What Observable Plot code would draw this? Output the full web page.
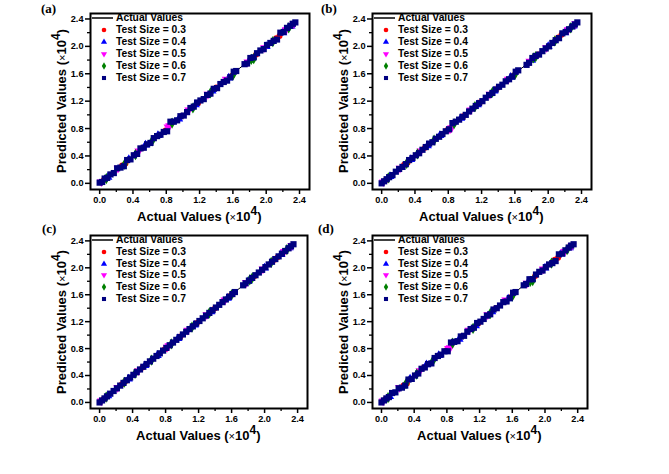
<!DOCTYPE html>
<html>
<head>
<meta charset="utf-8">
<script src="https://cdn.jsdelivr.net/npm/d3@7"></script>
<script src="https://cdn.jsdelivr.net/npm/@observablehq/plot@0.6"></script>
<style>
html,body{margin:0;padding:0;background:#fff;}
#chart{position:relative;width:669px;height:474px;overflow:hidden;background:#fff;font-family:"Liberation Sans",Arial,sans-serif;color:#000;}
.panel{position:absolute;}
.plab{position:absolute;font-family:"Liberation Serif","Times New Roman",serif;font-weight:bold;font-size:13px;line-height:13px;}
.ttl{position:absolute;font-weight:bold;font-size:13px;line-height:13px;white-space:nowrap;}
.ttl .mul{font-weight:normal;font-size:11px;}
.ttl sup{font-size:12px;vertical-align:6px;line-height:0;}
.leg{position:absolute;font-weight:bold;font-size:10.3px;white-space:nowrap;}
.leg .row{position:absolute;left:0;height:10px;}
.leg .row span{position:absolute;left:26px;top:-6px;line-height:12px;}
.leg svg{position:absolute;left:0;top:-5px;}
</style>
</head>
<body>
<div id="chart"></div>
<script>
// ---------- data ----------
const panelLabels = ["(a)", "(b)", "(c)", "(d)"];
const seriesNames = ["Test Size = 0.3", "Test Size = 0.4", "Test Size = 0.5", "Test Size = 0.6", "Test Size = 0.7"];
const lineName = "Actual Values";
const seriesColors = ["#ff0000", "#0000ff", "#ff00ff", "#008000", "#000080"];
const majorTicks = [0.0, 0.4, 0.8, 1.2, 1.6, 2.0, 2.4];
const minorTicks = [0.2, 0.6, 1.0, 1.4, 1.8, 2.2];
const xTitle = "Actual Values";
const yTitle = "Predicted Values";

// Test Size = 0.7 (drawn on top)
const actual07 = [0.00,0.03,0.06,0.09,0.13,0.17,0.21,0.25,0.29,0.33,0.37,0.41,0.45,0.49,0.53,0.57,0.61,0.65,0.69,0.73,0.77,0.81,0.85,0.89,0.93,0.97,1.01,1.05,1.09,1.13,1.17,1.21,1.25,1.29,1.33,1.37,1.41,1.45,1.49,1.53,1.57,1.61,1.64,1.74,1.77,1.81,1.85,1.89,1.93,1.97,2.01,2.05,2.09,2.13,2.17,2.21,2.25,2.29,2.32,2.35];
const pred07A = [0.01,0.02,0.07,0.08,0.13,0.15,0.22,0.23,0.25,0.34,0.35,0.41,0.43,0.51,0.52,0.57,0.59,0.66,0.69,0.71,0.75,0.76,0.90,0.90,0.92,0.98,0.99,1.04,1.10,1.12,1.18,1.21,1.23,1.29,1.31,1.38,1.39,1.45,1.48,1.50,1.55,1.63,1.64,1.74,1.75,1.83,1.84,1.90,1.94,1.96,2.02,2.05,2.08,2.10,2.20,2.21,2.27,2.30,2.33,2.35];
const pred07B = [0.00,0.03,0.06,0.09,0.12,0.17,0.21,0.24,0.28,0.34,0.37,0.41,0.44,0.49,0.53,0.58,0.60,0.65,0.68,0.72,0.76,0.79,0.88,0.90,0.93,0.97,1.00,1.05,1.09,1.13,1.17,1.20,1.25,1.29,1.32,1.37,1.41,1.44,1.49,1.52,1.56,1.63,1.65,1.73,1.76,1.83,1.86,1.88,1.93,1.97,2.00,2.05,2.09,2.12,2.19,2.21,2.25,2.29,2.32,2.35];
const pred07C = [0.00,0.03,0.06,0.09,0.13,0.17,0.21,0.25,0.29,0.33,0.37,0.41,0.45,0.49,0.53,0.57,0.61,0.65,0.69,0.73,0.77,0.81,0.85,0.89,0.93,0.97,1.01,1.05,1.09,1.13,1.17,1.21,1.25,1.29,1.33,1.37,1.41,1.45,1.49,1.53,1.57,1.61,1.64,1.74,1.77,1.81,1.85,1.89,1.93,1.97,2.01,2.05,2.09,2.13,2.17,2.21,2.25,2.29,2.32,2.35];
const pred07D = [0.00,0.03,0.06,0.08,0.14,0.15,0.21,0.22,0.25,0.34,0.35,0.40,0.43,0.50,0.52,0.57,0.58,0.66,0.69,0.71,0.76,0.76,0.89,0.90,0.91,0.98,0.99,1.05,1.09,1.11,1.18,1.20,1.24,1.29,1.31,1.38,1.40,1.44,1.49,1.50,1.55,1.63,1.64,1.74,1.76,1.83,1.83,1.90,1.94,1.96,2.01,2.05,2.07,2.10,2.20,2.21,2.26,2.30,2.33,2.35];

// Test Size = 0.3
const actual03 = [0.05,0.27,0.31,0.52,0.79,0.98,1.18,1.40,1.59,1.88,2.12,2.16];
const pred03A = [0.05,0.26,0.29,0.52,0.77,0.98,1.17,1.40,1.57,1.88,2.12,2.15];
const pred03B = [0.05,0.27,0.30,0.52,0.78,0.98,1.18,1.40,1.58,1.88,2.13,2.17];
const pred03C = [0.05,0.27,0.31,0.52,0.79,0.98,1.18,1.40,1.59,1.88,2.12,2.16];
const pred03D = [0.05,0.25,0.28,0.52,0.77,0.98,1.17,1.40,1.57,1.88,2.12,2.15];

// Test Size = 0.4
const actual04 = [0.10,0.35,0.55,0.70,0.95,1.15,1.35,1.55,1.80,2.00,2.20,2.30];
const pred04A = [0.09,0.35,0.56,0.70,0.94,1.15,1.35,1.54,1.80,2.00,2.20,2.30];
const pred04B = [0.10,0.35,0.55,0.70,0.95,1.15,1.35,1.55,1.80,2.00,2.20,2.30];
const pred04C = [0.10,0.35,0.55,0.70,0.95,1.15,1.35,1.55,1.80,2.00,2.20,2.30];
const pred04D = [0.09,0.35,0.56,0.70,0.94,1.14,1.35,1.54,1.80,2.00,2.21,2.30];

// Test Size = 0.5
const actual05 = [0.02,0.22,0.47,0.82,0.84,1.07,1.30,1.52,1.78,1.98,2.24,2.33];
const pred05A = [0.02,0.22,0.47,0.82,0.84,1.07,1.30,1.52,1.77,1.98,2.24,2.33];
const pred05B = [0.02,0.22,0.47,0.79,0.81,1.07,1.30,1.52,1.78,1.98,2.24,2.33];
const pred05C = [0.02,0.22,0.47,0.82,0.84,1.07,1.30,1.52,1.78,1.98,2.24,2.33];
const pred05D = [0.02,0.22,0.47,0.80,0.81,1.07,1.30,1.52,1.77,1.98,2.24,2.33];

// Test Size = 0.6
const actual06 = [0.08,0.30,0.43,0.63,0.87,1.12,1.33,1.60,1.82,1.85,2.08,2.27];
const pred06A = [0.07,0.28,0.42,0.62,0.88,1.10,1.32,1.58,1.81,1.82,2.07,2.27];
const pred06B = [0.08,0.29,0.43,0.63,0.87,1.12,1.33,1.59,1.83,1.85,2.08,2.27];
const pred06C = [0.08,0.30,0.43,0.63,0.87,1.12,1.33,1.60,1.82,1.85,2.08,2.27];
const pred06D = [0.07,0.28,0.42,0.62,0.88,1.10,1.32,1.58,1.80,1.81,2.07,2.27];

// ---------- layout ----------
const xDomain = [-0.11, 2.52];
const yDomain = [-0.09, 2.48];

const downTriangle = {
  draw(ctx, size) {
    const s = Math.sqrt(size / (3 * Math.sqrt(3)));
    ctx.moveTo(0, 2 * s);
    ctx.lineTo(-Math.sqrt(3) * s, -s);
    ctx.lineTo(Math.sqrt(3) * s, -s);
    ctx.closePath();
  }
};
const symbolsPlot = ["circle", "triangle", downTriangle, "diamond", "square"];
const symbolsD3 = [d3.symbolCircle, d3.symbolTriangle, downTriangle, d3.symbolDiamond, d3.symbolSquare];
const radii = [3.0, 3.3, 3.3, 3.4, 3.5];

const panels = [
  {left: 0,   top: 0,   fw: 219, fh: 176, lab: [41, 2],   pred: [pred03A, pred04A, pred05A, pred06A, pred07A]},
  {left: 282, top: 0,   fw: 219, fh: 176, lab: [321, 2],  pred: [pred03B, pred04B, pred05B, pred06B, pred07B]},
  {left: 0,   top: 222, fw: 217, fh: 173, lab: [42, 222], pred: [pred03C, pred04C, pred05C, pred06C, pred07C]},
  {left: 282, top: 222, fw: 215, fh: 173, lab: [318, 222], pred: [pred03D, pred04D, pred05D, pred06D, pred07D]}
];
const actuals = [actual03, actual04, actual05, actual06, actual07];
const mL = 90, mT = 13, mR = 11, mB = 43;
const fmt = d3.format(".1f");

const chart = document.getElementById("chart");

panels.forEach((p, pi) => {
  const marks = [
    Plot.line(actual07, {x: d => d, y: d => d, stroke: "black", strokeWidth: 1})
  ];
  for (let s = 0; s < 5; s++) {
    const data = actuals[s].map((a, i) => ({a, p: p.pred[s][i]}));
    marks.push(Plot.dot(data, {x: "a", y: "p", symbol: symbolsPlot[s], r: radii[s], fill: seriesColors[s], stroke: "none"}));
  }
  marks.push(
    Plot.axisX(majorTicks, {anchor: "bottom", tickSize: 5, tickPadding: 2, strokeWidth: 1.5, tickFormat: fmt, label: null}),
    Plot.axisX(minorTicks, {anchor: "bottom", tickSize: 3, strokeWidth: 1.3, tickFormat: () => "", label: null}),
    Plot.axisY(majorTicks, {anchor: "left", tickSize: 5, tickPadding: 2, strokeWidth: 1.5, tickFormat: fmt, label: null}),
    Plot.axisY(minorTicks, {anchor: "left", tickSize: 3, strokeWidth: 1.3, tickFormat: () => "", label: null}),
    Plot.frame({stroke: "black", strokeWidth: 2})
  );
  const svg = Plot.plot({
    width: mL + p.fw + mR,
    height: mT + p.fh + mB,
    marginLeft: mL, marginRight: mR, marginTop: mT, marginBottom: mB,
    x: {domain: xDomain},
    y: {domain: yDomain},
    style: {fontFamily: "'Liberation Sans', Arial, sans-serif", fontSize: "9.2px", fontWeight: "bold", color: "#000", background: "transparent", overflow: "visible"},
    marks
  });
  const wrap = document.createElement("div");
  wrap.className = "panel";
  wrap.style.left = p.left + "px";
  wrap.style.top = p.top + "px";
  wrap.appendChild(svg);
  chart.appendChild(wrap);

  const fL = p.left + mL, fT = p.top + mT;
  const x0 = fL + 9.2 * p.fw / 219, x24 = fL + p.fw - 10 * p.fw / 219;

  // panel label
  const lab = document.createElement("div");
  lab.className = "plab";
  lab.style.left = p.lab[0] + "px";
  lab.style.top = p.lab[1] + "px";
  lab.textContent = panelLabels[pi];
  chart.appendChild(lab);

  // x title
  const xt = document.createElement("div");
  xt.className = "ttl";
  xt.innerHTML = xTitle + ' (<span class="mul">\u00d7</span>10<sup>4</sup>)';
  chart.appendChild(xt);
  const xw = xt.offsetWidth;
  xt.style.left = ((x0 + x24) / 2 - xw / 2) + "px";
  xt.style.top = (fT + p.fh + 21) + "px";

  // y title
  const yt = document.createElement("div");
  yt.className = "ttl";
  yt.innerHTML = yTitle + ' (<span class="mul">\u00d7</span>10<sup>4</sup>)';
  chart.appendChild(yt);
  const yw = yt.offsetWidth, yh = yt.offsetHeight;
  const cx = fL - 28, cy = fT + p.fh / 2;
  yt.style.left = (cx - yw / 2) + "px";
  yt.style.top = (cy - yh / 2) + "px";
  yt.style.transform = "rotate(-90deg)";

  // legend
  const leg = document.createElement("div");
  leg.className = "leg";
  leg.style.left = fL + "px";
  leg.style.top = fT + "px";
  const step = 12 * p.fh / 176;
  for (let r = 0; r < 6; r++) {
    const row = document.createElement("div");
    row.className = "row";
    row.style.top = (5 + r * step) + "px";
    const sv = d3.create("svg").attr("width", 24).attr("height", 10);
    if (r === 0) {
      sv.append("line").attr("x1", 2).attr("x2", 23).attr("y1", 5).attr("y2", 5).attr("stroke", "black").attr("stroke-width", 1.5);
    } else {
      const s = r - 1;
      sv.append("path").attr("transform", "translate(14,5)")
        .attr("d", d3.symbol(symbolsD3[s], Math.PI * 2.3 * 2.3)())
        .attr("fill", seriesColors[s]);
    }
    row.appendChild(sv.node());
    const t = document.createElement("span");
    t.textContent = r === 0 ? lineName : seriesNames[r - 1];
    row.appendChild(t);
    leg.appendChild(row);
  }
  chart.appendChild(leg);
});
</script>
</body>
</html>
